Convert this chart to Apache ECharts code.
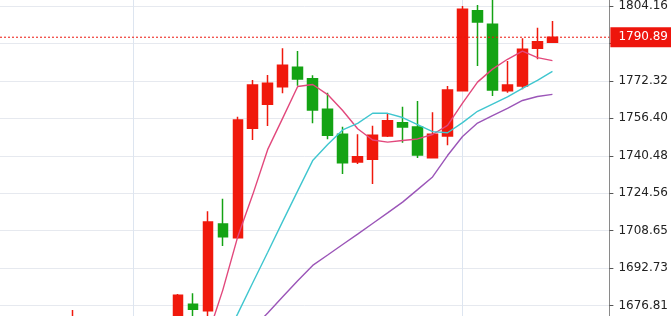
<!DOCTYPE html>
<html>
<head>
<meta charset="utf-8">
<script src="https://cdn.jsdelivr.net/npm/echarts@6/dist/echarts.min.js"></script>
<style>
html,body{margin:0;padding:0;background:#fff;}
#c{width:671px;height:316px;}
</style>
</head>
<body>
<div id="c"></div>
<script>
// candle index (x position on the base axis)
const idx = [0,1,2,3,4,5,6,7,8,9,10,11,12,13,14,15,16,17,18,19,20,21,22,23,24,25,26,27,28,29,30,31,32];
const opens  = [1665,1668,1664,1660,1658,1661,1663,1668,1677.36,1674.64,1711.49,1705.67,1752.17,1762.37,1769.86,1778.10,1773.26,1760.25,1749.62,1737.85,1739.00,1748.90,1754.55,1752.73,1739.68,1748.90,1768.16,1802.16,1796.38,1768.16,1770.15,1786.18,1788.73];
const closes = [1671,1664,1660,1657,1661,1663,1666,1681.18,1675.23,1712.34,1706.09,1755.70,1770.58,1771.30,1778.95,1773.13,1759.95,1749.20,1737.55,1740.10,1749.20,1755.40,1752.73,1740.82,1749.62,1768.45,1802.76,1797.36,1768.45,1770.58,1785.75,1788.98,1790.89];
const lows   = [1663,1662,1657,1654,1655,1659,1661,1666,1671,1671,1702.14,1705.2,1747.20,1753.15,1767.05,1770.28,1754.30,1747.50,1732.75,1737.00,1728.50,1748.5,1746.05,1739.55,1739.5,1744.95,1768.0,1778.66,1765.90,1767.31,1768.75,1781.50,1788.5];
const highs  = [1674.9,1670,1666,1662,1663,1665,1668,1681.74,1682.03,1716.89,1722.25,1757.10,1772.70,1774.83,1786.18,1785.03,1774.70,1767.31,1752.85,1749.62,1753.28,1758.55,1761.35,1763.78,1758.97,1770.15,1804.16,1804.58,1808,1780.78,1790.43,1794.94,1797.78];
const ma5  = [null,null,null,null,null,null,null,null,null,1664,1683.4,1706.11,1723.99,1743.20,1756.52,1769.93,1770.78,1766.51,1759.76,1751.99,1747.20,1746.29,1747.00,1747.65,1749.55,1753.40,1762.88,1771.80,1777.33,1781.52,1784.98,1782.22,1780.93];
const ma10 = [null,null,null,null,null,null,null,null,null,null,1660.5,1673.4,1686.5,1699.5,1712.6,1725.6,1738.45,1745.25,1751.48,1754.26,1758.57,1758.54,1756.75,1753.70,1750.77,1750.30,1754.58,1759.40,1762.49,1765.54,1769.19,1772.55,1776.37];
const ma20 = [null,null,null,null,null,null,null,null,null,null,1653,1660.1,1666.9,1673.7,1680.6,1687.4,1693.9,1698.3,1702.8,1707.2,1711.7,1716.2,1720.8,1726.1,1731.5,1740.6,1748.7,1754.4,1757.6,1760.6,1764.0,1765.7,1766.6];
const yTicks = [1676.81,1692.73,1708.65,1724.56,1740.48,1756.40,1772.32,1788.24,1804.16];
const vLines = [4, 26];
const lastPrice = 1790.89;
const xMin = -4.8667, xMax = 35.8;

const UP = '#f0190c', DOWN = '#14a314', PRICE = '#ee150c';
const candleData = idx.map((x,i)=>[x, opens[i], closes[i], lows[i], highs[i]]);
const toLine = arr => idx.map((x,i)=> arr[i]==null ? null : [x, arr[i]]).filter(Boolean);

const chart = echarts.init(document.getElementById('c'), null, {renderer:'canvas'});
chart.setOption({
  animation:false,
  backgroundColor:'#fff',
  grid:{left:0, right:61, top:0, bottom:0},
  xAxis:{
    type:'value', min:xMin, max:xMax,
    axisLine:{show:false, onZero:false}, axisLabel:{show:false},
    axisTick:{show:false, customValues:vLines},
    splitLine:{show:true, lineStyle:{color:'#dde5f0', width:1}}
  },
  yAxis:{
    type:'value', position:'right', min:1672.39, max:1806.71, scale:true,
    axisLine:{show:true, onZero:false, lineStyle:{color:'#8a8a8a'}},
    axisTick:{show:true, length:4, customValues:yTicks, lineStyle:{color:'#555'}},
    axisLabel:{show:true, customValues:yTicks, margin:9, color:'#222', fontFamily:'DejaVu Sans', fontSize:12,
      formatter:v=>Number(v).toFixed(2)},
    splitLine:{show:true, lineStyle:{color:'#e6e9ef', width:1}}
  },
  series:[
    {
      type:'candlestick', clip:true, barWidth:10,
      encode:{x:0, y:[1,2,3,4]},
      data:candleData,
      itemStyle:{color:UP, color0:DOWN, borderColor:UP, borderColor0:DOWN, borderWidth:1.5}
    },
    {type:'line', clip:true, data:toLine(ma5), symbol:'none', lineStyle:{color:'#e2487c', width:1.4}},
    {type:'line', clip:true, data:toLine(ma10), symbol:'none', lineStyle:{color:'#3fc6cf', width:1.4}},
    {type:'line', clip:true, data:toLine(ma20), symbol:'none', lineStyle:{color:'#9b55b8', width:1.4}},
    {
      type:'line', clip:false, symbol:'none', color:PRICE,
      data:[[xMin, lastPrice],[xMax, lastPrice]],
      lineStyle:{color:PRICE, type:[2,2], width:1},
      endLabel:{show:true, distance:1, formatter:()=>lastPrice.toFixed(2),
        backgroundColor:PRICE, color:'#fff', fontFamily:'DejaVu Sans', fontSize:12,
        padding:[3,6,3,8], lineHeight:14, align:'left'}
    }
  ]
});
</script>
</body>
</html>
